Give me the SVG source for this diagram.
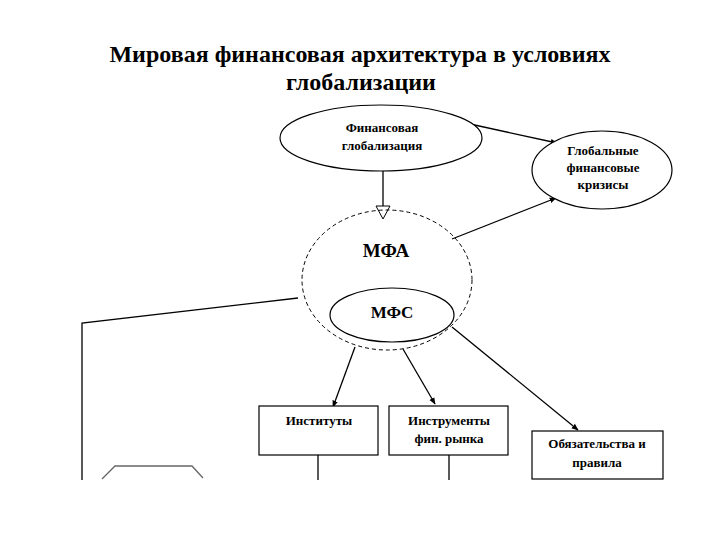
<svg xmlns="http://www.w3.org/2000/svg" width="720" height="540" viewBox="0 0 720 540">
<style>
.t{font-family:"Liberation Serif","Times New Roman",serif;font-weight:bold;fill:#000;text-anchor:middle}
.n{font-size:13px}
.ln{fill:none;stroke:#000;stroke-width:1.3}
.sh{fill:#fff;stroke:#000;stroke-width:1.2}
</style>
<defs>
<marker id="ah" viewBox="0 0 10 10" refX="9" refY="5" markerWidth="7" markerHeight="7" orient="auto" markerUnits="userSpaceOnUse">
<path d="M0,1 L10,5 L0,9 Z" fill="#000"/>
</marker>
</defs>
<rect width="720" height="540" fill="#fff"/>
<text class="t" x="360" y="62" font-size="24">Мировая финансовая архитектура в условиях</text>
<text class="t" x="361" y="90" font-size="24">глобализации</text>

<g id="connectors">
<polyline class="ln" points="383,170 383,207"/>
<path d="M376,206 L390,206 L383,219 Z" fill="#fff" stroke="#000" stroke-width="1"/>
<line class="ln" x1="470" y1="124" x2="557" y2="143" marker-end="url(#ah)"/>
<line class="ln" x1="452" y1="239" x2="556" y2="198" marker-end="url(#ah)"/>
<polyline class="ln" points="298,298 82,323 82,480"/>
<line class="ln" x1="355" y1="347" x2="333" y2="407" marker-end="url(#ah)"/>
<line class="ln" x1="403" y1="349" x2="435" y2="404" marker-end="url(#ah)"/>
<line class="ln" x1="452" y1="327" x2="578" y2="430" marker-end="url(#ah)"/>
<line class="ln" x1="318" y1="455" x2="318" y2="480"/>
<line class="ln" x1="449" y1="455" x2="449" y2="480"/>
<polyline points="102,479 115,466 192,466 203,478" fill="none" stroke="#666" stroke-width="1.3"/>
</g>

<g id="fin-glob">
<ellipse class="sh" cx="381" cy="138" rx="101" ry="33"/>
<text class="t n" x="382" y="132">Финансовая</text>
<text class="t n" x="382" y="150">глобализация</text>
</g>
<g id="crises">
<ellipse class="sh" cx="602" cy="170" rx="70" ry="39"/>
<text class="t n" x="603" y="155">Глобальные</text>
<text class="t n" x="603" y="172">финансовые</text>
<text class="t n" x="603" y="189">кризисы</text>
</g>
<g id="mfa">
<ellipse cx="387" cy="280" rx="85" ry="70" fill="none" stroke="#000" stroke-width="1" stroke-dasharray="4,3"/>
<text class="t" x="386" y="257" font-size="19">МФА</text>
</g>
<g id="mfs">
<ellipse class="sh" cx="392" cy="315" rx="62" ry="27"/>
<text class="t" x="392" y="318" font-size="17">МФС</text>
</g>
<g id="institutes">
<rect class="sh" x="259" y="406" width="119" height="49"/>
<text class="t n" x="319" y="425">Институты</text>
</g>
<g id="instruments">
<rect class="sh" x="389" y="406" width="119" height="49"/>
<text class="t n" x="449" y="425">Инструменты</text>
<text class="t n" x="449" y="443">фин. рынка</text>
</g>
<g id="obligations">
<rect class="sh" x="532" y="431" width="131" height="48"/>
<text class="t n" x="597" y="448">Обязательства и</text>
<text class="t n" x="597" y="467">правила</text>
</g>
</svg>
